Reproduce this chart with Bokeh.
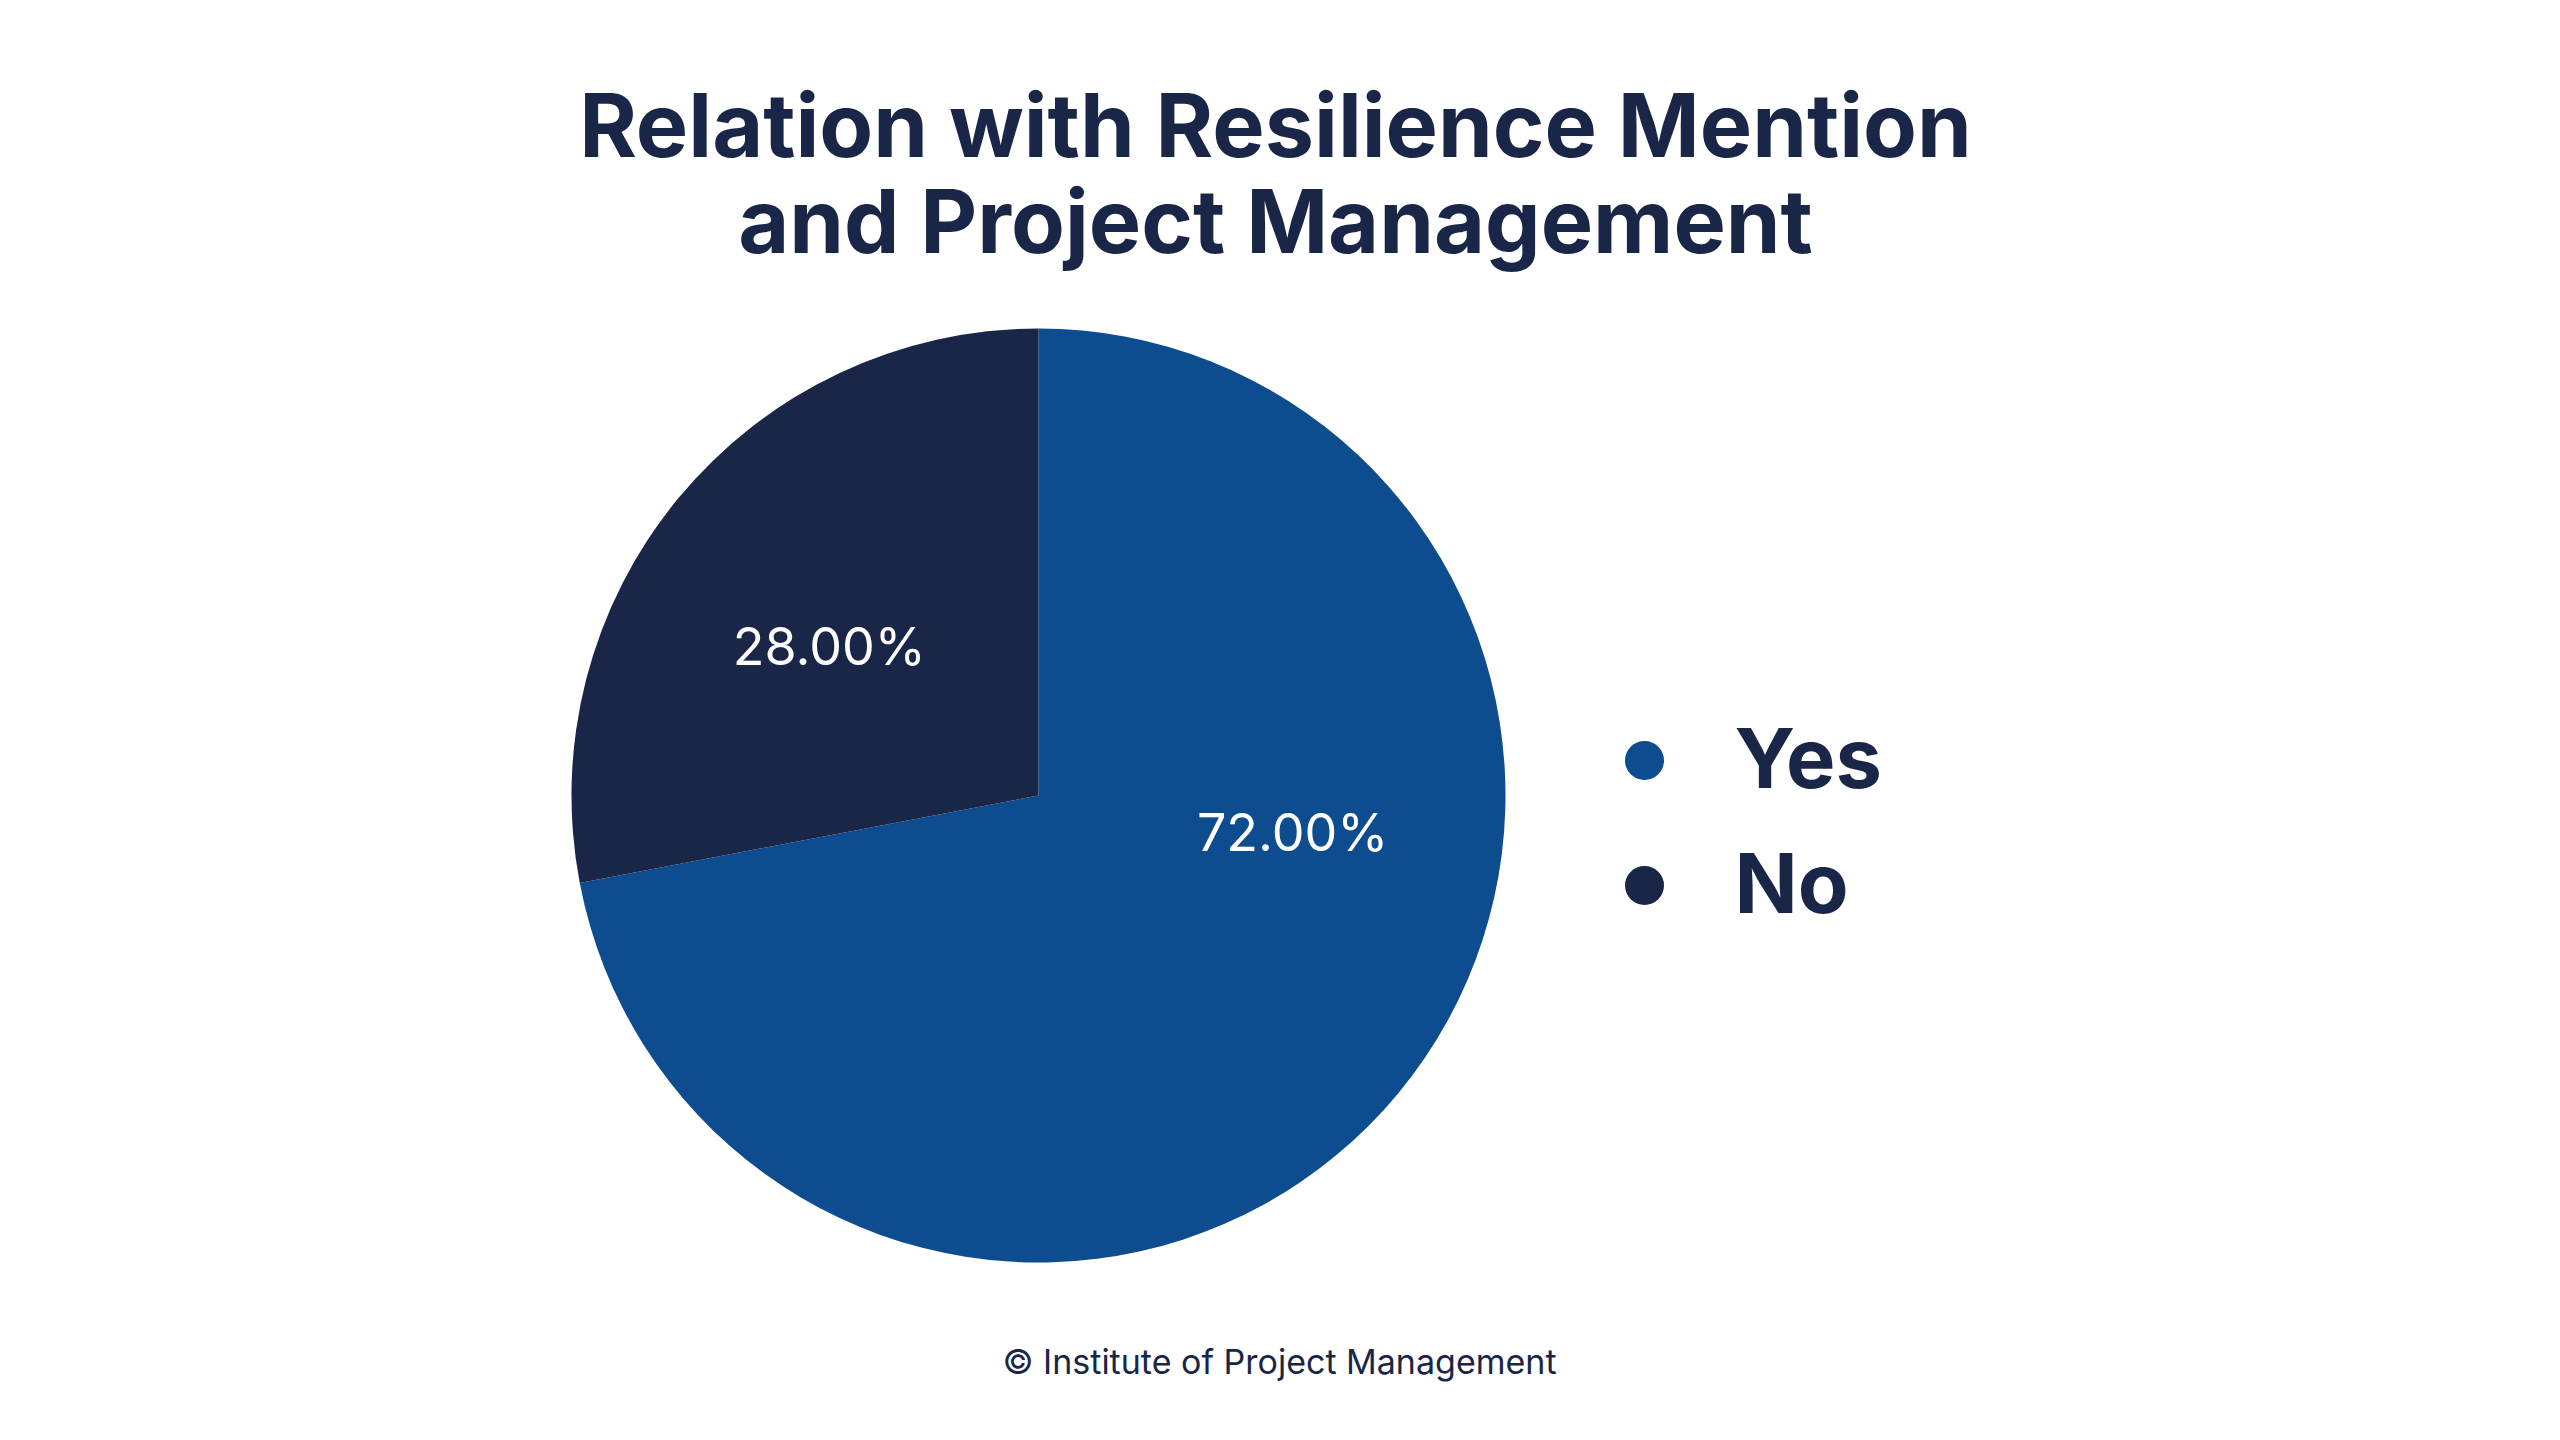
import math
from bokeh.plotting import figure
from bokeh.models import ColumnDataSource, Range1d
from bokeh.core.properties import value
from bokeh.embed import file_html
from bokeh.resources import INLINE

# ---- data ----
categories = ["Yes", "No"]
shares = [72.0, 28.0]
slice_colors = ["#0d4c8f", "#1a2647"]
title_lines = ["Relation with Resilience Mention", "and Project Management"]
footer_text = "\u00a9 Institute of Project Management"
label_angles_deg = [-8.3, 144.5]   # label placement angles

W, H = 2544, 1424
NAVY = "#1a2647"
FONT = "Inter"

p = figure(width=W, height=H, output_backend="svg", toolbar_location=None,
           x_range=Range1d(0, W), y_range=Range1d(0, H), min_border=0)
p.axis.visible = False
p.grid.visible = False
p.outline_line_color = None
p.background_fill_color = "white"
p.border_fill_color = "white"

cx, cy, R = 1038, 629, 467

total = sum(shares)
starts, ends = [], []
a = math.pi / 2
for s in shares:
    starts.append(a)
    a = a - s / total * 2 * math.pi
    ends.append(a)

src = ColumnDataSource(dict(cat=categories, start=starts, end=ends, color=slice_colors))
p.wedge(x=cx, y=cy, radius=R, radius_units="screen", start_angle="start", end_angle="end",
        direction="clock", fill_color="color", line_color=None, source=src)

# percentage labels
lr = 0.55 * R
lx = [cx + lr * math.cos(math.radians(d)) for d in label_angles_deg]
ly = [cy + lr * math.sin(math.radians(d)) for d in label_angles_deg]
labels = ["%.2f%%" % s for s in shares]
p.text(x=lx, y=ly, text=labels, text_color="white", text_font=value(FONT),
       text_font_size="52px", text_align="center", text_baseline="middle")

# title
p.text(x=[1275, 1275], y=[1300, 1204], text=title_lines, text_color=NAVY,
       text_font=value(FONT), text_font_style="bold", text_font_size="88px",
       text_align="center", text_baseline="middle")

# legend
leg_y = [664 - 125 * i for i in range(len(categories))]
p.scatter(x=[1644] * len(categories), y=leg_y, size=39, marker="circle",
          fill_color=slice_colors, line_color=None)
p.text(x=[1734] * len(categories), y=[y + 3 for y in leg_y], text=categories,
       text_color=NAVY, text_font=value(FONT), text_font_style="bold",
       text_font_size="83px", text_align="left", text_baseline="middle")

# footer
p.text(x=[1279], y=[63], text=[footer_text], text_color=NAVY, text_font=value(FONT),
       text_font_size="34px", text_align="center", text_baseline="middle")

open("out.html", "w").write(file_html(p, INLINE))
